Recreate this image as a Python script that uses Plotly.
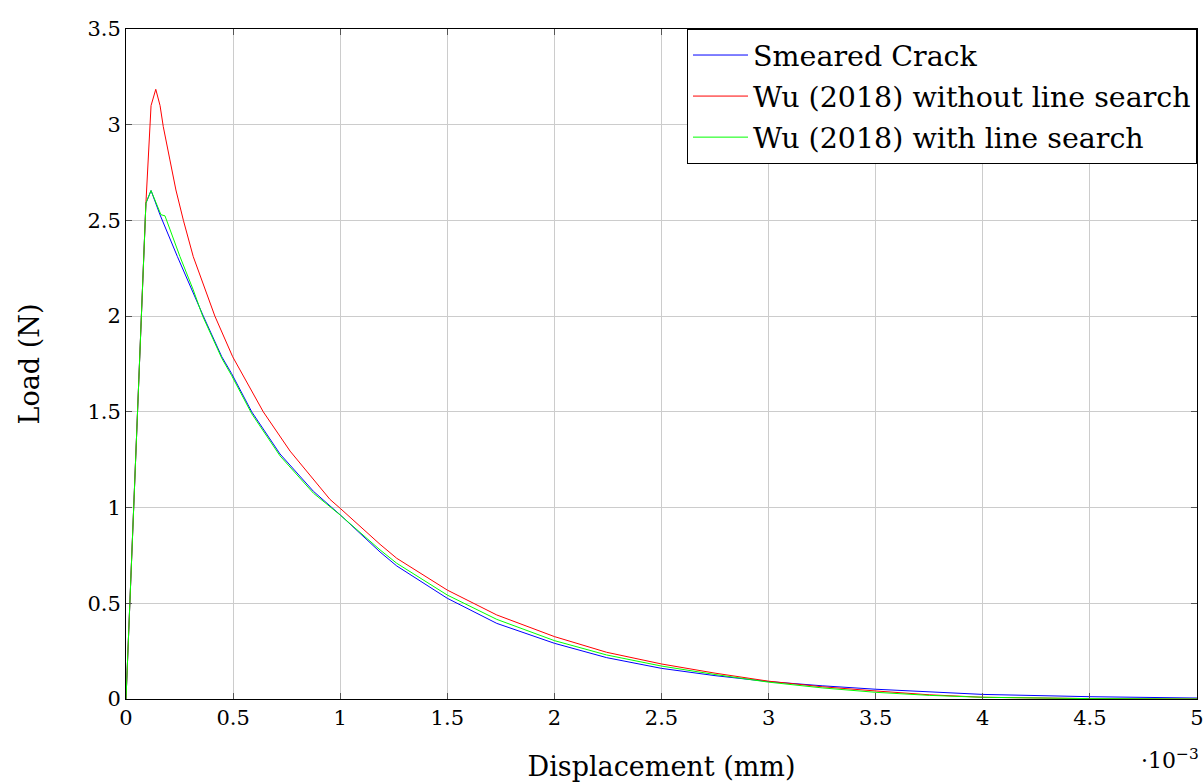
import plotly.graph_objects as go

# Displacement values are in units of 1e-3 mm; load in N.
smeared_disp = [0.0, 0.093, 0.117, 0.159, 0.240, 0.307, 0.361, 0.447, 0.493, 0.587, 0.719,
                0.875, 0.952, 1.0, 1.186, 1.264, 1.5, 1.731, 2.0, 2.244, 2.5, 2.75, 3.0, 3.25,
                3.5, 3.75, 4.0, 4.5, 5.0]
smeared_load = [0.0, 2.59, 2.656, 2.529, 2.311, 2.137, 2.0, 1.788, 1.70, 1.5, 1.28,
                1.085, 1.008, 0.962, 0.768, 0.695, 0.526, 0.395, 0.291, 0.216, 0.160, 0.122,
                0.091, 0.069, 0.051, 0.036, 0.024, 0.012, 0.005]

wu_nols_disp = [0.0, 0.093, 0.117, 0.139, 0.159, 0.174, 0.205, 0.233, 0.268, 0.314, 0.415,
                0.498, 0.641, 0.766, 0.952, 1.0, 1.186, 1.264, 1.5, 1.731, 2.0, 2.244, 2.5,
                2.75, 3.0, 3.25, 3.5, 3.75, 4.0, 4.25, 4.5, 5.0]
wu_nols_load = [0.0, 2.59, 3.10, 3.185, 3.10, 2.99, 2.816, 2.659, 2.5, 2.311, 2.0,
                1.788, 1.5, 1.295, 1.043, 0.996, 0.808, 0.735, 0.569, 0.439, 0.326, 0.244, 0.183,
                0.135, 0.093, 0.064, 0.042, 0.022, 0.009, 0.004, 0.002, 0.0]

wu_ls_disp = [0.0, 0.093, 0.117, 0.163, 0.182, 0.252, 0.314, 0.358, 0.447, 0.493, 0.587,
              0.719, 0.875, 0.952, 1.0, 1.186, 1.264, 1.5, 1.731, 2.0, 2.244, 2.5, 2.75, 3.0,
              3.25, 3.5, 3.75, 4.0, 4.25, 4.5, 5.0]
wu_ls_load = [0.0, 2.59, 2.656, 2.53, 2.524, 2.311, 2.137, 2.0, 1.78, 1.69, 1.49,
              1.27, 1.075, 1.005, 0.961, 0.779, 0.709, 0.543, 0.416, 0.305, 0.230, 0.172, 0.128,
              0.088, 0.058, 0.035, 0.019, 0.009, 0.004, 0.002, 0.0]

x_ticks = [0, 0.5, 1, 1.5, 2, 2.5, 3, 3.5, 4, 4.5, 5]
x_tick_text = ["0", "0.5", "1", "1.5", "2", "2.5", "3", "3.5", "4", "4.5", "5"]
y_ticks = [0, 0.5, 1, 1.5, 2, 2.5, 3, 3.5]
y_tick_text = ["0", "0.5", "1", "1.5", "2", "2.5", "3", "3.5"]

FONT = "DejaVu Serif"

fig = go.Figure()
series = [
    (smeared_disp, smeared_load, "Smeared Crack", "#0000ff"),
    (wu_nols_disp, wu_nols_load, "Wu (2018) without line search", "#ff0000"),
    (wu_ls_disp, wu_ls_load, "Wu (2018) with line search", "#00ff00"),
]
for i, (xs, ys, name, color) in enumerate(series):
    fig.add_trace(go.Scatter(x=xs, y=ys, mode="lines", name=name, legendgroup=f"g{i}",
                             line=dict(color=color, width=1)))

axis_common = dict(
    showgrid=True, gridcolor="#cccccc", gridwidth=1,
    showline=True, linecolor="black", linewidth=1, mirror="allticks",
    ticks="inside", ticklen=6, tickcolor="#555555",
    zeroline=False, automargin=False, ticklabeloverflow="allow",
    tickfont=dict(family=FONT, size=21, color="black"),
)

fig.update_xaxes(range=[0, 5], tickvals=x_ticks, ticktext=x_tick_text,
                 title=dict(text="Displacement (mm)", font=dict(family=FONT, size=27, color="black"),
                            standoff=28),
                 **axis_common)
fig.update_yaxes(range=[0, 3.5], tickvals=y_ticks, ticktext=y_tick_text,
                 title=dict(text="Load (N)", font=dict(family=FONT, size=27, color="black"),
                            standoff=39),
                 **axis_common)

fig.add_annotation(x=1.0, y=0, xref="paper", yref="paper", xanchor="right", yanchor="top",
                   yshift=-44, xshift=4, showarrow=False,
                   text="·10<sup>−3</sup>", font=dict(family=FONT, size=22, color="black"))

fig.update_layout(
    width=1203, height=782,
    margin=dict(l=126, r=6, t=29, b=83),
    paper_bgcolor="white", plot_bgcolor="white",
    font=dict(family=FONT, color="black"),
    legend=dict(x=1, y=1, xanchor="right", yanchor="top",
                bgcolor="white", bordercolor="black", borderwidth=1,
                font=dict(family=FONT, size=28.5, color="black"),
                tracegroupgap=1, itemwidth=55),
    showlegend=True,
)

fig.write_html("out.html")
